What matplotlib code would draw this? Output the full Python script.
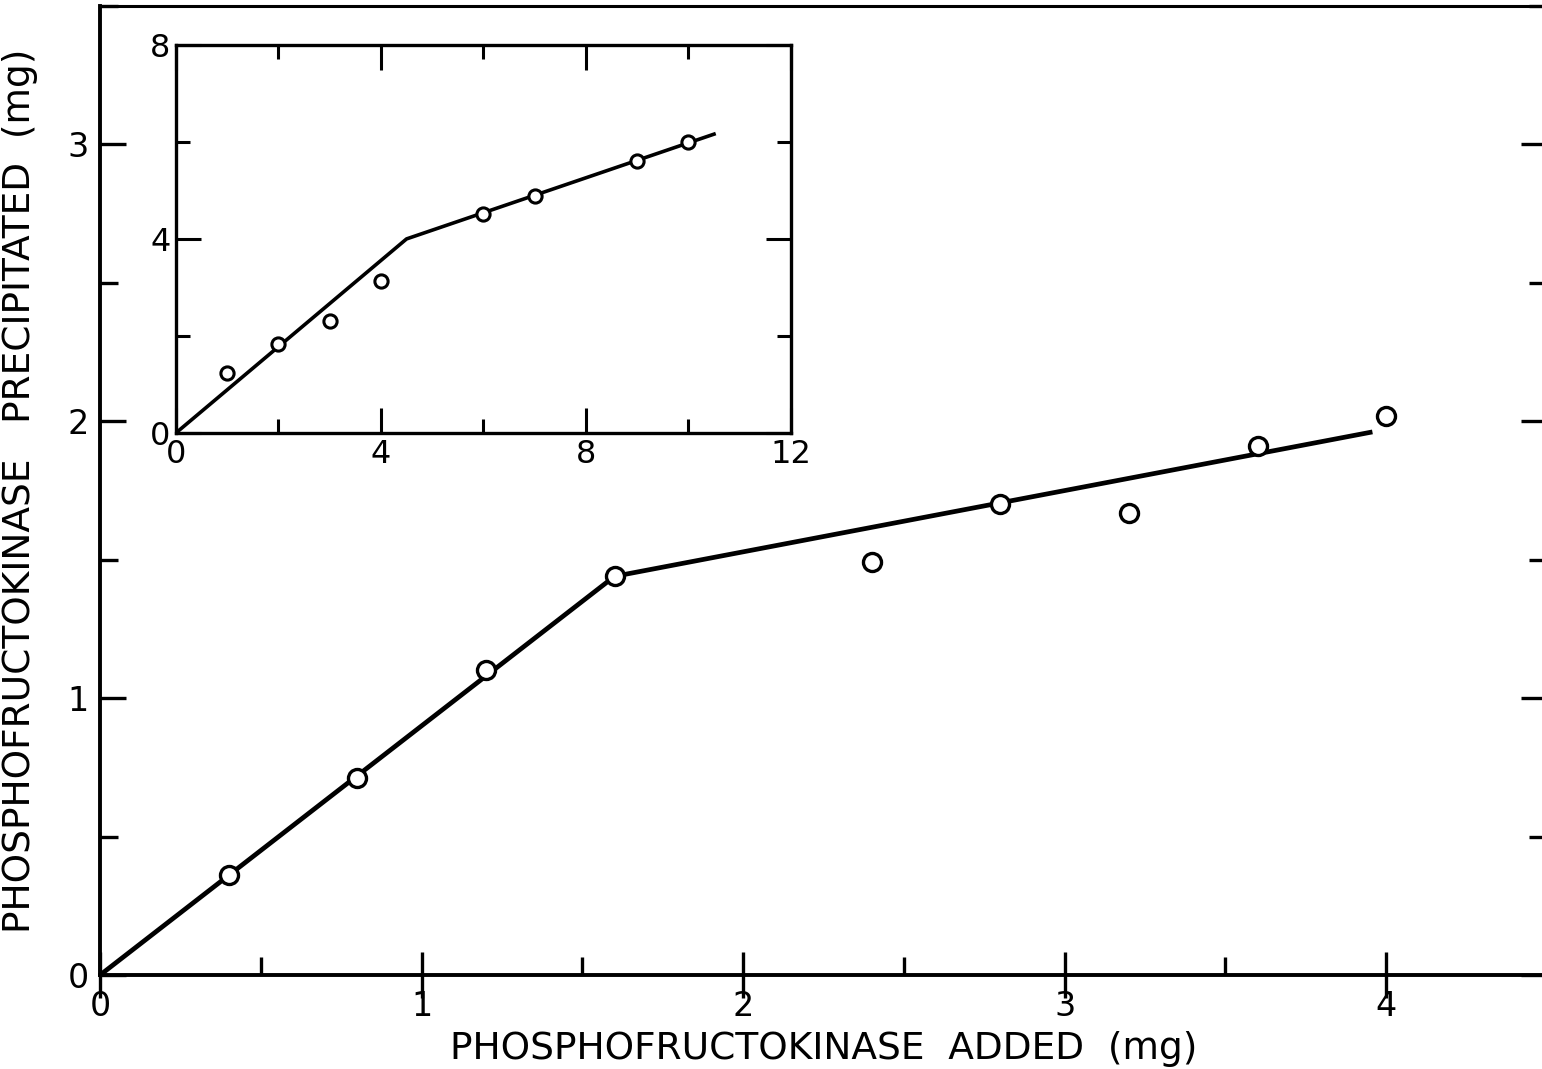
import matplotlib
matplotlib.use('Agg')
import matplotlib.pyplot as plt
from matplotlib.ticker import MultipleLocator

# main plot data (mg)
added = [0.4, 0.8, 1.2, 1.6, 2.4, 2.8, 3.2, 3.6, 4.0]
precip = [0.36, 0.71, 1.10, 1.44, 1.49, 1.70, 1.67, 1.91, 2.02]
fit_x = [0.0, 1.6, 3.95]
fit_y = [0.0, 1.44, 1.96]

# inset data
ins_added = [1, 2, 3, 4, 6, 7, 9, 10]
ins_precip = [1.24, 1.84, 2.31, 3.13, 4.52, 4.89, 5.61, 6.0]
ins_fit_x = [0.0, 4.5, 10.5]
ins_fit_y = [0.0, 4.0, 6.16]

plt.rcParams['font.family'] = 'DejaVu Sans'

fig = plt.figure(figsize=(15.42, 10.69), dpi=100)

# main axes
ax = fig.add_axes([0.0649, 0.0879, 0.9383, 0.9065])
ax.plot(fit_x, fit_y, color='black', lw=3.4, zorder=2)
ax.plot(added, precip, 'o', ms=13, mfc='white', mec='black', mew=2.4, zorder=3)
ax.set_xlim(0, 4.5)
ax.set_ylim(0, 3.5)
for s in ax.spines.values():
    s.set_linewidth(2.8)
ax.spines['top'].set_linewidth(2.2)
ax.spines['right'].set_visible(False)  # cut off at the page edge
ax.xaxis.set_major_locator(MultipleLocator(1))
ax.xaxis.set_minor_locator(MultipleLocator(0.5))
ax.yaxis.set_major_locator(MultipleLocator(1))
ax.yaxis.set_minor_locator(MultipleLocator(0.5))
ax.tick_params(axis='x', which='major', direction='inout', length=33, width=2.4,
               labelsize=24, pad=-6)
ax.tick_params(axis='x', which='minor', direction='in', length=13, width=2.4)
ax.tick_params(axis='y', which='both', direction='in', right=True, width=2.4,
               labelsize=24, pad=8)
ax.tick_params(axis='y', which='major', length=19)
ax.tick_params(axis='y', which='minor', length=13)
ax.set_xlabel('PHOSPHOFRUCTOKINASE  ADDED  (mg)', fontsize=27, labelpad=6)
ax.set_ylabel('PHOSPHOFRUCTOKINASE   PRECIPITATED  (mg)', fontsize=27)
ax.yaxis.set_label_coords(-0.043, 0.5)

# inset
ins = fig.add_axes([0.1141, 0.595, 0.3988, 0.363])
ins.plot(ins_fit_x, ins_fit_y, color='black', lw=2.6, zorder=2)
ins.plot(ins_added, ins_precip, 'o', ms=9.5, mfc='white', mec='black', mew=2.2, zorder=3)
ins.set_xlim(0, 12)
ins.set_ylim(0, 8)
for s in ins.spines.values():
    s.set_linewidth(2.4)
ins.xaxis.set_major_locator(MultipleLocator(4))
ins.xaxis.set_minor_locator(MultipleLocator(2))
ins.yaxis.set_major_locator(MultipleLocator(4))
ins.yaxis.set_minor_locator(MultipleLocator(2))
ins.tick_params(which='both', direction='in', top=True, right=True, width=2.2,
                labelsize=23, pad=4)
ins.tick_params(which='major', length=18)
ins.tick_params(which='minor', length=10)

fig.savefig('out.png', dpi=100)
